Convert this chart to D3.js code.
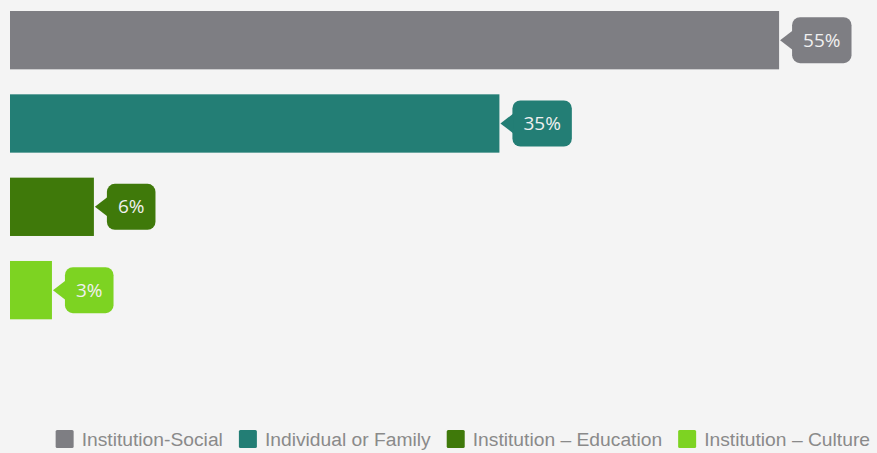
<!DOCTYPE html>
<html>
<head>
<meta charset="utf-8">
<script src="https://cdn.jsdelivr.net/npm/d3@7"></script>
<style>
  html, body { margin: 0; padding: 0; background: #f4f4f4; }
  svg { display: block; }
</style>
</head>
<body>
<svg id="chart" width="877" height="453"></svg>
<script>
// data
var categories = ["Institution-Social", "Individual or Family", "Institution \u2013 Education", "Institution \u2013 Culture"];
var shares = [55, 35, 6, 3];
var colors = ["#7e7e83", "#237e75", "#3f790a", "#7dd322"];

var width = 877, height = 453;
var svg = d3.select("#chart");

svg.append("rect")
	.attr("width", width)
	.attr("height", height)
	.attr("fill", "#f4f4f4");

var xScale = d3.scaleLinear().domain([0, 60]).range([10, 849]);
var yScale = d3.scaleBand()
	.domain(categories)
	.range([-1.5, 331.8])
	.paddingInner(0.3)
	.paddingOuter(0.15);

var rows = categories.map(function(c, i) {
	return {name: c, value: shares[i], color: colors[i]};
});

//Bars
svg.selectAll("rect.bar")
	.data(rows)
	.enter()
	.append("rect")
	.attr("class", "bar")
	.attr("x", xScale(0))
	.attr("y", function(d) { return yScale(d.name); })
	.attr("width", function(d) { return xScale(d.value) - xScale(0); })
	.attr("height", yScale.bandwidth())
	.attr("fill", function(d) { return d.color; });

//Label bubbles
var bubbles = svg.selectAll("g.bubble")
	.data(rows)
	.enter()
	.append("g")
	.attr("class", "bubble")
	.attr("transform", function(d) {
		return "translate(" + (xScale(d.value) + 1) + "," + (yScale(d.name) + yScale.bandwidth() / 2) + ")";
	});

bubbles.each(function(d) {
	var g = d3.select(this);
	var txt = g.append("text")
		.attr("font-family", "'Open Sans', sans-serif")
		.attr("font-size", 19)
		.attr("fill", "#f0f0f0")
		.attr("dy", "0.35em")
		.text(d.value + "%");
	var tw = txt.node().getComputedTextLength();
	var off = 12, pad = 11, h = 46, r = 8;
	var w = tw + pad * 2;
	g.insert("rect", "text")
		.attr("x", off)
		.attr("y", -h / 2)
		.attr("width", w)
		.attr("height", h)
		.attr("rx", r)
		.attr("fill", d.color);
	g.insert("path", "text")
		.attr("d", "M0,0 L" + (off + 1) + ",-10 L" + (off + 1) + ",10 Z")
		.attr("fill", d.color);
	txt.attr("x", off + pad);
});

//Legend
var legend = svg.append("g").attr("class", "legend");
var items = legend.selectAll("g.item")
	.data(rows)
	.enter()
	.append("g")
	.attr("class", "item");

items.append("rect")
	.attr("width", 18)
	.attr("height", 18)
	.attr("rx", 1.5)
	.attr("y", -9)
	.attr("fill", function(d) { return d.color; });

items.append("text")
	.attr("x", 26)
	.attr("dy", "0.35em")
	.attr("font-family", "'Liberation Sans', Arial, sans-serif")
	.attr("font-size", 19.25)
	.attr("fill", "#8a8a8a")
	.text(function(d) { return d.name; });

var cursor = 0;
var offsets = [];
items.each(function() {
	offsets.push(cursor);
	cursor += 26 + d3.select(this).select("text").node().getComputedTextLength() + 16;
});
var totalW = cursor - 16;
var startX = 870 - totalW;
items.attr("transform", function(d, i) { return "translate(" + (startX + offsets[i]) + ",439)"; });
</script>
</body>
</html>
